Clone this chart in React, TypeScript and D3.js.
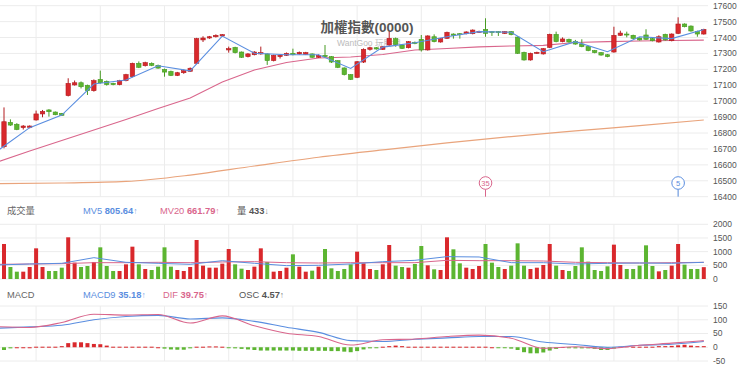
import { useEffect, useRef } from 'react'
import * as d3 from 'd3'

// daily candles (110 bars)
const open = [
  16714, 16867, 16855, 16834, 16836, 16882, 16920, 16945, 16932, 16924,
  17035, 17102, 17116, 17100, 17066, 17137, 17125, 17112, 17104, 17129,
  17154, 17238, 17223, 17238, 17225, 17200, 17187, 17162, 17179, 17188,
  17238, 17385, 17397, 17405, 17410, 17322, 17338, 17309, 17280, 17292,
  17297, 17297, 17255, 17280, 17288, 17301, 17297, 17294, 17297, 17276,
  17288, 17280, 17255, 17209, 17167, 17150, 17246, 17326, 17336, 17326,
  17353, 17393, 17353, 17336, 17370, 17389, 17322, 17405, 17372, 17395,
  17422, 17424, 17424, 17424, 17433, 17451, 17437, 17437, 17426, 17437,
  17403, 17307, 17259, 17301, 17297, 17338, 17420, 17374, 17389, 17376,
  17359, 17343, 17318, 17305, 17292, 17309, 17414, 17422, 17414, 17397,
  17416, 17393, 17372, 17420, 17380, 17426, 17485, 17472, 17439, 17422,
]
const close = [
  16871, 16850, 16822, 16844, 16844, 16920, 16936, 16934, 16915, 16911,
  17112, 17116, 17091, 17066, 17129, 17116, 17104, 17104, 17129, 17167,
  17238, 17213, 17242, 17225, 17208, 17183, 17162, 17179, 17192, 17207,
  17393, 17397, 17405, 17414, 17418, 17330, 17305, 17276, 17297, 17309,
  17305, 17255, 17288, 17288, 17301, 17292, 17307, 17305, 17276, 17288,
  17280, 17246, 17213, 17167, 17137, 17248, 17326, 17336, 17328, 17342,
  17395, 17355, 17332, 17374, 17363, 17322, 17410, 17374, 17393, 17433,
  17414, 17418, 17435, 17447, 17439, 17426, 17431, 17431, 17437, 17418,
  17301, 17259, 17301, 17307, 17330, 17420, 17374, 17391, 17372, 17359,
  17343, 17318, 17305, 17290, 17280, 17414, 17428, 17416, 17395, 17385,
  17389, 17380, 17405, 17385, 17422, 17485, 17468, 17441, 17422, 17451,
]
const high = [
  16961, 16886, 16862, 16850, 16848, 16941, 16945, 16950, 16935, 16926,
  17144, 17130, 17124, 17104, 17137, 17192, 17130, 17116, 17134, 17172,
  17242, 17250, 17248, 17244, 17230, 17205, 17192, 17184, 17200, 17212,
  17398, 17408, 17410, 17420, 17422, 17343, 17342, 17312, 17302, 17314,
  17343, 17300, 17292, 17294, 17306, 17330, 17312, 17310, 17300, 17294,
  17353, 17284, 17258, 17212, 17170, 17252, 17332, 17342, 17340, 17346,
  17437, 17400, 17356, 17378, 17375, 17416, 17414, 17420, 17397, 17437,
  17426, 17428, 17439, 17451, 17443, 17521, 17441, 17441, 17441, 17441,
  17407, 17311, 17305, 17311, 17334, 17424, 17437, 17401, 17393, 17385,
  17389, 17347, 17322, 17309, 17296, 17468, 17443, 17437, 17418, 17401,
  17452, 17397, 17414, 17424, 17426, 17527, 17489, 17476, 17443, 17455,
]
const low = [
  16704, 16845, 16818, 16822, 16830, 16878, 16899, 16903, 16912, 16908,
  17030, 17098, 17080, 17039, 17060, 17110, 17098, 17100, 17100, 17125,
  17150, 17208, 17218, 17220, 17204, 17154, 17158, 17158, 17172, 17184,
  17234, 17372, 17392, 17400, 17405, 17305, 17300, 17272, 17275, 17288,
  17292, 17228, 17250, 17268, 17284, 17288, 17292, 17290, 17272, 17272,
  17276, 17240, 17208, 17162, 17133, 17145, 17240, 17318, 17324, 17322,
  17350, 17343, 17328, 17332, 17358, 17312, 17318, 17370, 17368, 17391,
  17393, 17393, 17420, 17420, 17429, 17405, 17410, 17410, 17422, 17414,
  17297, 17255, 17255, 17297, 17293, 17334, 17370, 17370, 17368, 17355,
  17339, 17314, 17301, 17286, 17276, 17305, 17410, 17401, 17391, 17381,
  17385, 17376, 17368, 17381, 17376, 17422, 17464, 17437, 17405, 17418,
]
const volume = [
  1280, 439, 268, 268, 439, 1121, 439, 293, 293, 414,
  1524, 597, 439, 475, 622, 1158, 475, 293, 293, 536,
  1182, 536, 366, 329, 451, 1158, 451, 329, 293, 439,
  1426, 488, 414, 414, 561, 1097, 536, 378, 329, 451,
  1121, 622, 268, 293, 414, 902, 451, 268, 305, 451,
  1097, 390, 293, 366, 536, 1000, 573, 366, 329, 536,
  1243, 488, 439, 414, 549, 1207, 500, 354, 329, 1524,
  1085, 573, 414, 366, 475, 1280, 597, 439, 366, 488,
  1304, 488, 366, 414, 512, 1280, 488, 329, 293, 475,
  1158, 634, 329, 293, 463, 1256, 512, 366, 366, 488,
  1231, 475, 280, 329, 488, 1280, 524, 366, 366, 433,
]
const osc = [
  -10, -4, 0, 0, 0, 2, 2, 2, 2, 4,
  15, 18, 18, 15, 12, 11, 6, 2, 2, 2,
  2, 2, 2, 2, 0, -5, -8, -9, -9, -4,
  2, 2, 3, 3, 2, -1, -4, -6, -8, -10,
  -12, -12, -12, -12, -12, -12, -13, -13, -13, -13,
  -13, -14, -14, -16, -18, -14, -8, -4, -2, 2,
  4, 6, 4, 2, 2, 2, 2, 2, 2, 2,
  2, 2, 2, 2, 2, 2, 0, -1, -2, -5,
  -10, -18, -22, -22, -19, -12, -6, 1, -2, -4,
  -4, -4, -6, -10, -10, -5, 2, 4, 2, 2,
  2, 2, 4, 4, 5, 7, 9, 6, 4, 4,
]

// averages sampled every 5 bars: bar -1, 4, 9, ... 109
const ma5 = [
  16689, 16834, 16913, 17108, 17133, 17223, 17191, 17409, 17301, 17292, 17292, 17206,
  17340, 17367, 17405, 17437, 17433, 17311, 17374, 17311, 17405, 17393, 17451,
]
const ma20 = [
  16618, 16687, 16753, 16819, 16885, 16954, 17020, 17121, 17196, 17243, 17271, 17278,
  17293, 17322, 17331, 17341, 17347, 17351, 17369, 17374, 17378, 17381, 17384,
]
const volMa5 = [
  512, 549, 573, 780, 610, 573, 536, 670, 573, 488, 500, 549,
  634, 683, 817, 805, 597, 597, 549, 573, 585, 573, 610,
]
const volMa20 = [
  536, 549, 561, 597, 597, 610, 597, 622, 634, 597, 585, 597,
  597, 597, 683, 670, 670, 658, 610, 597, 585, 597, 610,
]
const dif = [
  75, 72, 90, 120, 117, 119, 88, 114, 78, 51, 39, 8,
  27, 30, 39, 44, 33, -4, 2, -5, 7, 15, 24,
]
const macd9 = [
  69, 74, 80, 100, 112, 116, 103, 107, 94, 73, 54, 24,
  21, 29, 34, 39, 39, 19, 10, 0, 7, 11, 21,
]
// long average sampled every 10 bars: bar -1, 9, ... 109
const maLong = [16482, 16486, 16496, 16536, 16593, 16648, 16694, 16738, 16778, 16813, 16847, 16882]

const priceTicks = [17600, 17500, 17400, 17300, 17200, 17100, 17000, 16900, 16800, 16700, 16600, 16500, 16400]
const volTicks = [2000, 1500, 1000, 500, 0]
const macdTicks = [150, 100, 50, 0, -50]
const gridBars = [5, 15, 25, 35, 45, 55, 65, 75, 85, 95, 105]
const markers = [
  { bar: 75, label: '35', color: '#d9668c' },
  { bar: 105, label: '5', color: '#5a8ee0' },
]

const RED = '#d9282c'
const GREEN = '#5cb531'
const BLUE = '#5a8ee0'
const PINK = '#d9668c'
const ORANGE = '#e9a47c'
const FONT = '"Liberation Sans", Arial, "Noto Sans CJK TC", sans-serif'

export default function App() {
  const svgRef = useRef<SVGSVGElement>(null)
  const width = 740
  const height = 370

  useEffect(() => {
    const el = svgRef.current
    if (!el) return
    const svg = d3.select(el)
    svg.selectAll('*').remove()

    const x = d3.scaleLinear().domain([0, 109]).range([4, 703.8])
    const yP = d3.scaleLinear().domain([16400, 17600]).range([196.7, 5.7])
    const yV = d3.scaleLinear().domain([0, 2000]).range([279, 224.3])
    const yM = d3.scaleLinear().domain([-50, 150]).range([361, 306])
    const gridRight = 708
    const axisX = 713

    svg.append('defs').append('clipPath').attr('id', 'plot-clip')
      .append('rect').attr('x', 0).attr('y', 0).attr('width', gridRight).attr('height', height)

    // grids + right axes for the three panels
    const panels = [
      { y: yP, ticks: priceTicks },
      { y: yV, ticks: volTicks },
      { y: yM, ticks: macdTicks },
    ]
    panels.forEach(({ y, ticks }) => {
      const g = svg.append('g')
      const [y0, y1] = y.range()
      g.selectAll('line.h').data(ticks).join('line')
        .attr('x1', 0).attr('x2', gridRight)
        .attr('y1', d => y(d)).attr('y2', d => y(d))
        .attr('stroke', '#ececec').attr('stroke-width', 1)
      g.selectAll('line.v').data(gridBars).join('line')
        .attr('x1', d => x(d)).attr('x2', d => x(d))
        .attr('y1', y1).attr('y2', y0)
        .attr('stroke', '#ececec').attr('stroke-width', 1)
      g.selectAll('text').data(ticks).join('text')
        .attr('x', axisX).attr('y', d => y(d)).attr('dy', '0.35em')
        .attr('fill', '#555').attr('font-family', FONT).attr('font-size', '8.5px')
        .text(d => String(d))
    })

    // title + watermark (under the candles)
    svg.append('text')
      .attr('x', 367).attr('y', 32).attr('text-anchor', 'middle')
      .attr('fill', '#555').attr('font-family', FONT).attr('font-weight', 'bold').attr('font-size', '13.5px')
      .text('加權指數(0000)')
    svg.append('text')
      .attr('x', 337).attr('y', 46)
      .attr('fill', '#bbb').attr('font-family', FONT).attr('font-size', '8.5px')
      .text('WantGoo 玩股網')

    const plot = svg.append('g').attr('clip-path', 'url(#plot-clip)')

    // moving averages on price
    const line5 = d3.line<number>().x((_, k) => x(-1 + 5 * k)).y(d => yP(d))
    const line10 = d3.line<number>().x((_, k) => x(-1 + 10 * k)).y(d => yP(d)).curve(d3.curveMonotoneX)
    plot.append('path').datum(maLong).attr('d', line10)
      .attr('fill', 'none').attr('stroke', ORANGE).attr('stroke-width', 1.2)
    plot.append('path').datum(ma20).attr('d', line5)
      .attr('fill', 'none').attr('stroke', PINK).attr('stroke-width', 1.1)

    // candles
    const idx = d3.range(open.length)
    const up = (i: number) => close[i] >= open[i]
    const cg = plot.append('g')
    cg.selectAll('line').data(idx).join('line')
      .attr('x1', i => x(i)).attr('x2', i => x(i))
      .attr('y1', i => yP(high[i])).attr('y2', i => yP(low[i]))
      .attr('stroke', i => up(i) ? '#b31d20' : '#479a22').attr('stroke-width', 1)
    cg.selectAll('rect').data(idx).join('rect')
      .attr('x', i => x(i) - 2.2).attr('width', 4.4)
      .attr('y', i => yP(Math.max(open[i], close[i])))
      .attr('height', i => Math.max(1, Math.abs(yP(open[i]) - yP(close[i]))))
      .attr('fill', i => up(i) ? RED : GREEN)
      .attr('stroke', i => up(i) ? '#b31d20' : '#479a22').attr('stroke-width', 0.6)

    plot.append('path').datum(ma5).attr('d', line5)
      .attr('fill', 'none').attr('stroke', BLUE).attr('stroke-width', 1.1)

    // event markers
    markers.forEach(m => {
      const mg = svg.append('g').attr('transform', `translate(${x(m.bar)},183)`)
      mg.append('line').attr('x1', 0).attr('x2', 0).attr('y1', 6.3).attr('y2', 13.7)
        .attr('stroke', m.color).attr('stroke-width', 1)
      mg.append('circle').attr('r', 6.3).attr('fill', '#fff').attr('stroke', m.color).attr('stroke-width', 1)
      mg.append('text').attr('text-anchor', 'middle').attr('dy', '0.35em')
        .attr('fill', m.color).attr('font-family', FONT).attr('font-size', '7.5px')
        .text(m.label)
    })

    // volume bars
    plot.append('g').selectAll('rect').data(idx).join('rect')
      .attr('x', i => x(i) - 2).attr('width', 4)
      .attr('y', i => yV(volume[i])).attr('height', i => yV(0) - yV(volume[i]))
      .attr('fill', i => up(i) ? RED : GREEN)
    const vline = d3.line<number>().x((_, k) => x(-1 + 5 * k)).y(d => yV(d))
    plot.append('path').datum(volMa20).attr('d', vline)
      .attr('fill', 'none').attr('stroke', PINK).attr('stroke-width', 1)
    plot.append('path').datum(volMa5).attr('d', vline)
      .attr('fill', 'none').attr('stroke', BLUE).attr('stroke-width', 1)

    // MACD
    plot.append('g').selectAll('rect').data(idx).join('rect')
      .attr('x', i => x(i) - 2).attr('width', 4)
      .attr('y', i => yM(Math.max(0, osc[i])))
      .attr('height', i => Math.max(1, Math.abs(yM(osc[i]) - yM(0))))
      .attr('fill', i => osc[i] >= 0 ? RED : GREEN)
    const mline = d3.line<number>().x((_, k) => x(-1 + 5 * k)).y(d => yM(d)).curve(d3.curveMonotoneX)
    plot.append('path').datum(macd9).attr('d', mline)
      .attr('fill', 'none').attr('stroke', BLUE).attr('stroke-width', 1.1)
    plot.append('path').datum(dif).attr('d', mline)
      .attr('fill', 'none').attr('stroke', PINK).attr('stroke-width', 1.1)

    // legends
    const legend = (y: number, title: string, items: { x: number; name: string; value: string; arrow: string; color: string }[]) => {
      svg.append('text').attr('x', 7).attr('y', y)
        .attr('fill', '#666').attr('font-family', FONT).attr('font-size', '9.3px').text(title)
      items.forEach(it => {
        const t = svg.append('text').attr('x', it.x).attr('y', y)
          .attr('fill', it.color).attr('font-family', FONT).attr('font-size', '9.3px')
        t.append('tspan').text(it.name + ' ')
        t.append('tspan').attr('font-weight', 'bold').text(it.value)
        t.append('tspan').attr('font-size', '8.5px').attr('fill-opacity', 0.8).text(it.arrow)
      })
    }
    legend(214, '成交量', [
      { x: 83, name: 'MV5', value: '805.64', arrow: '↑', color: BLUE },
      { x: 160, name: 'MV20', value: '661.79', arrow: '↑', color: PINK },
      { x: 237, name: '量', value: '433', arrow: '↓', color: '#555' },
    ])
    legend(297.5, 'MACD', [
      { x: 83, name: 'MACD9', value: '35.18', arrow: '↑', color: BLUE },
      { x: 163, name: 'DIF', value: '39.75', arrow: '↑', color: PINK },
      { x: 239, name: 'OSC', value: '4.57', arrow: '↑', color: '#555' },
    ])
  }, [])

  return (
    <svg
      ref={svgRef}
      width={width}
      height={height}
      style={{ position: 'absolute', left: 0, top: 0, background: '#fff', display: 'block' }}
    />
  )
}
